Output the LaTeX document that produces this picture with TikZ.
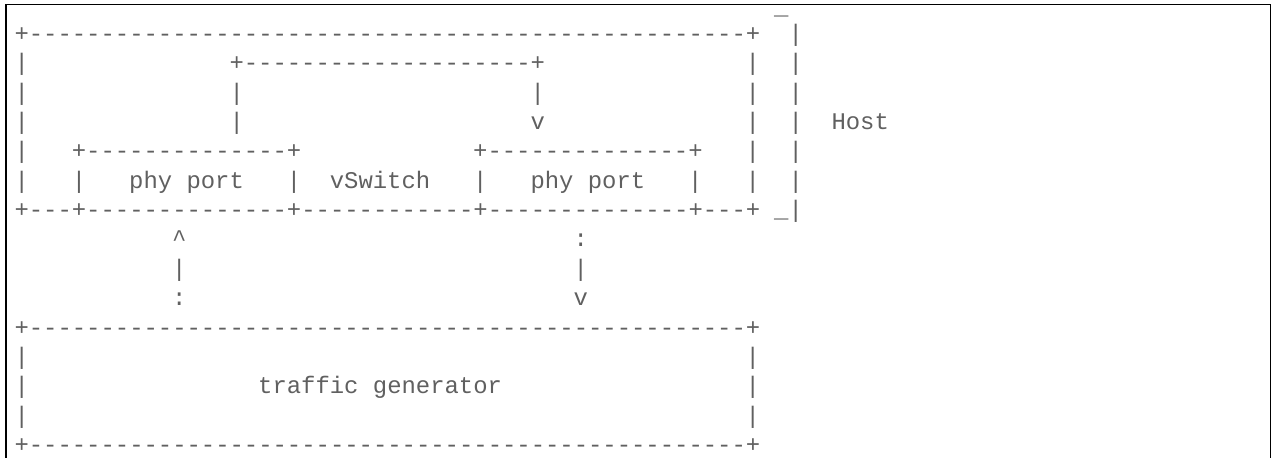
\documentclass[tikz,border=0pt]{standalone}
\usepackage{fontspec}
\setmonofont{Liberation Mono}
\ExplSyntaxOn
\cs_new:Npn \reprep #1#2 { \prg_replicate:nn {#1} {#2} }
\ExplSyntaxOff
\definecolor{ink}{RGB}{96,96,96}
\begin{document}
\begin{tikzpicture}[x=0.5pt,y=-0.5pt,
  tok/.style={anchor=base west,inner sep=0pt,outer sep=0pt,text=ink,
    font=\ttfamily\fontsize{11.95pt}{14pt}\selectfont},
  frame/.style={draw=black,line width=0.75pt}]
\useasboundingbox (0,0) rectangle (1274,458);
\newcommand\glyphat[3]{\node[tok] (r#1c#2) at ({14.53+14.333*#2},{12.1+29.36*#1}) {#3};}
% frame of the code block (open at the bottom)
\draw[frame] (6,458) -- (6,4.5) -- (1270.5,4.5) -- (1270.5,458);
% row 0
\node[tok] (r0c53) at ({14.53+14.333*53},15) {\_};
% row 1
\glyphat{1}{0}{+\reprep{50}{-}+}
\glyphat{1}{54}{|}
% row 2
\glyphat{2}{0}{|}
\glyphat{2}{15}{+\reprep{20}{-}+}
\glyphat{2}{51}{|}
\glyphat{2}{54}{|}
% row 3
\glyphat{3}{0}{|}
\glyphat{3}{15}{|}
\glyphat{3}{36}{|}
\glyphat{3}{51}{|}
\glyphat{3}{54}{|}
% row 4
\glyphat{4}{0}{|}
\glyphat{4}{15}{|}
\glyphat{4}{36}{v}
\glyphat{4}{51}{|}
\glyphat{4}{54}{|}
\glyphat{4}{57}{Host}
% row 5
\glyphat{5}{0}{|}
\glyphat{5}{4}{+\reprep{14}{-}+}
\glyphat{5}{32}{+\reprep{14}{-}+}
\glyphat{5}{51}{|}
\glyphat{5}{54}{|}
% row 6
\glyphat{6}{0}{|}
\glyphat{6}{4}{|}
\glyphat{6}{8}{phy port}
\glyphat{6}{19}{|}
\glyphat{6}{22}{vSwitch}
\glyphat{6}{32}{|}
\glyphat{6}{36}{phy port}
\glyphat{6}{47}{|}
\glyphat{6}{51}{|}
\glyphat{6}{54}{|}
% row 7
\glyphat{7}{0}{+---+\reprep{14}{-}+\reprep{12}{-}+\reprep{14}{-}+---+}
\glyphat{7}{53}{\_|}
% rows 8-10
\glyphat{8}{11}{\textasciicircum}
\glyphat{8}{39}{:}
\glyphat{9}{11}{|}
\glyphat{9}{39}{|}
\glyphat{10}{11}{:}
\glyphat{10}{39}{v}
% traffic generator box
\glyphat{11}{0}{+\reprep{50}{-}+}
\glyphat{12}{0}{|}
\glyphat{12}{51}{|}
\glyphat{13}{0}{|}
\glyphat{13}{17}{traffic generator}
\glyphat{13}{51}{|}
\glyphat{14}{0}{|}
\glyphat{14}{51}{|}
\glyphat{15}{0}{+\reprep{50}{-}+}
\end{tikzpicture}
\end{document}
